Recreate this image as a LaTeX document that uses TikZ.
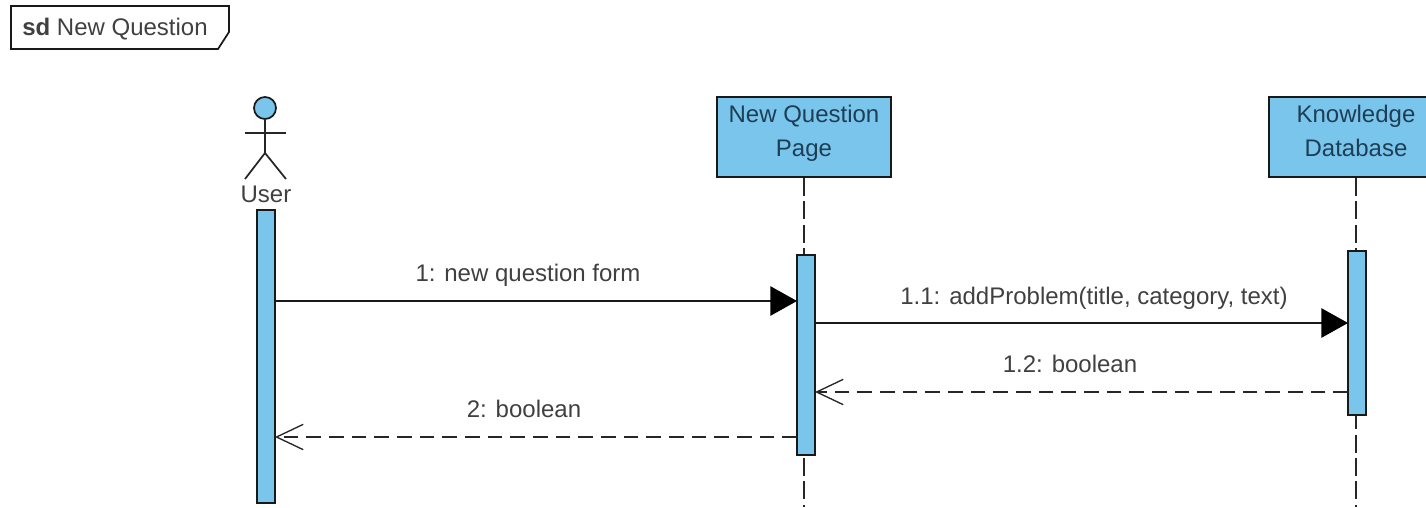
\documentclass[tikz,border=0pt]{standalone}
\usepackage{fontspec}
\setmainfont{Liberation Sans}
\usepackage{xcolor}
\usetikzlibrary{calc,arrows.meta}
\definecolor{barblue}{HTML}{7AC5EC}
\definecolor{boxtext}{HTML}{1E3E55}
\tikzset{>=stealth,
  lifebox/.style={draw=black!90,fill=barblue,line width=1.3pt,minimum width=130pt,minimum height=60pt,inner sep=0pt,align=center,text=boxtext,text height=36.5pt,text depth=8pt,font=\fontsize{18}{25.5}\selectfont},
  bar/.style={draw=black!90,fill=barblue,line width=1.3pt,minimum width=13.5pt,inner sep=0pt},
  msg/.style={font=\fontsize{18}{22}\selectfont,text=black!75,inner sep=0pt},
  lifeline/.style={line width=1.3pt,black!85,dash pattern=on 13.5pt off 4pt},
  call/.style={line width=1.3pt,black!90,-{Triangle[length=20pt,width=22pt,color=black]}},
  reply/.style={line width=1.3pt,black!85,dash pattern=on 11pt off 6pt,-{Straight Barb[length=20pt,width=19pt,line width=1pt]}}
}

\begin{document}
\begin{tikzpicture}[x=0.75pt,y=-0.75pt]
    \useasboundingbox (0,0) rectangle (1426,507);
    \clip (0,0) rectangle (1426,507);
    % frame
    \draw[line width=1.3pt,black!90] (11,6)--(229,6)--(229,32)--(218,49)--(11,49)--cycle;
    \node[msg,anchor=west] (frameLabel) at (22,29) {\textbf{sd} New Question};
    % actor
    \node[circle,draw=black!90,fill=barblue,line width=1.3pt,minimum size=16.5pt,inner sep=0pt] (userHead) at (265,108) {};
    \coordinate (userHip) at (265,153);
    \coordinate (userArmL) at (245,133);
    \coordinate (userArmR) at (286,133);
    \coordinate (userFootL) at (245,179);
    \coordinate (userFootR) at (286,179);
    \draw[line width=1.3pt,black!85] (userHead.south)--(userHip);
    \draw[line width=1.3pt,black!85] (userArmL)--(userArmR);
    \draw[line width=1.3pt,black!85] (userFootL)--(userHip)--(userFootR);
    \node[msg] (userLabel) at (266,194) {User};
    % lifelines
    \node[lifebox] (pageBox) at (804,137) {New Question\\Page};
    \node[lifebox] (dbBox) at (1356,137) {Knowledge\\Database};
    \coordinate (pageEnd) at (804,507);
    \coordinate (dbEnd) at (1356,507);
    \draw[lifeline] (pageBox.south)--(pageEnd);
    \draw[lifeline] (dbBox.south)--(dbEnd);
    % activations
    \node[bar,minimum height=219.75pt] (userBar) at (266,356.5) {};
    \node[bar,minimum height=150pt] (pageBar) at (806,355) {};
    \node[bar,minimum height=123pt] (dbBar) at (1357,333) {};
    % messages
    \coordinate (m1a) at (275,301);
    \coordinate (m1b) at (797,301);
    \coordinate (m2a) at (815,323);
    \coordinate (m2b) at (1348,323);
    \coordinate (m3a) at (1348,392);
    \coordinate (m3b) at (815,392);
    \coordinate (m4a) at (797,437);
    \coordinate (m4b) at (275,437);
    \draw[call] (m1a)--(m1b);
    \draw[call] (m2a)--(m2b);
    \draw[reply] (m3a)--(m3b);
    \draw[reply] (m4a)--(m4b);
    \node[msg] (m1Label) at (528,275) {1: new question form};
    \node[msg] (m2Label) at (1094,298) {1.1: addProblem(title, category, text)};
    \node[msg] (m3Label) at (1070,364) {1.2: boolean};
    \node[msg] (m4Label) at (524,409) {2: boolean};
\end{tikzpicture}
\end{document}
